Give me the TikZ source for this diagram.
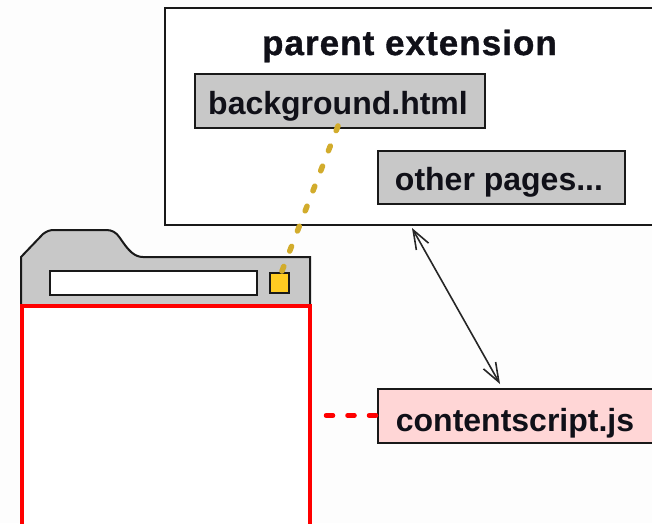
\documentclass[tikz,border=0pt]{standalone}
\usepackage{fontspec}
\setmainfont{Liberation Sans}
\usetikzlibrary{arrows.meta}
\definecolor{boxgray}{HTML}{C8C8C8}
\definecolor{txt}{HTML}{101018}
\definecolor{dots}{HTML}{D2AC2C}
\definecolor{pinkbox}{HTML}{FFD6D6}
\definecolor{yel}{HTML}{FFCC22}
\definecolor{paper}{HTML}{FDFDFD}
\tikzset{
 labelfont/.style={font=\bfseries\fontsize{32}{36}\selectfont,text=txt},
 box/.style={draw=black!90,line width=2pt,fill=boxgray,anchor=north west,inner sep=0pt,outer sep=0pt},
 lab/.style={labelfont,inner sep=0pt},
 dashline/.style={line width=4.5pt,line cap=round,dash pattern=on 7pt off 14.5pt},
 barbtip/.tip={Straight Barb[length=19pt,width=14pt,line width=1.6pt]},
}
\begin{document}
\begin{tikzpicture}[x=1pt,y=-1pt]
\useasboundingbox (0,0) rectangle (652,523);
\fill[paper] (0,0) rectangle (652,523);
\node[box,fill=white,minimum width=490pt,minimum height=217pt] (parent) at (165,8) {};
\node[lab,font=\bfseries\fontsize{35}{39}\selectfont\addfontfeature{LetterSpace=3,FakeBold=1}] (title) at (409.5,46) {parent extension};
\node[box,minimum width=290pt,minimum height=54pt] (bg) at (195,74) {};
\node[lab] (bgt) at (338,106) {background.html};
\node[box,minimum width=247pt,minimum height=53pt] (other) at (378,151) {};
\node[lab] (othert) at (499,182) {other pages...};
\draw[draw=black!90,line width=2pt,fill=boxgray] (21,305) -- (21,257) -- (43,234) .. controls (47,231) and (50,230) .. (54,230) -- (106,230) .. controls (112,230) and (116,232) .. (120,238) .. controls (128,250) and (134,257) .. (143,257) -- (310,257) -- (310,305) -- cycle;
\node[box,fill=white,minimum width=207pt,minimum height=24pt] (addr) at (50,271) {};
\node[box,fill=yel,minimum width=19pt,minimum height=20pt] (icon) at (270,273) {};
\node[draw=red,line width=4pt,fill=white,anchor=north west,minimum width=288pt,minimum height=220pt,inner sep=0pt,outer sep=0pt] (page) at (22,306) {};
\node[box,fill=pinkbox,minimum width=290pt,minimum height=54pt] (cs) at (378,389) {};
\node[lab] (cst) at (515,423) {contentscript.js};
\coordinate (dotstart) at (338,126);
\coordinate (dotend) at (282,271);
\draw[dots,dashline,line width=5.5pt,dash pattern=on 5pt off 16.5pt] (dotstart) -- (dotend);
\coordinate (redstart) at (326,415.5);
\coordinate (redend) at (377,415.5);
\draw[red,dashline] (redstart) -- (redend);
\coordinate (arrowtop) at (412,228);
\coordinate (arrowbot) at (500,384);
\draw[{barbtip}-{barbtip},draw=black!85,line width=1.6pt] (arrowtop) -- (arrowbot);
\end{tikzpicture}
\end{document}
